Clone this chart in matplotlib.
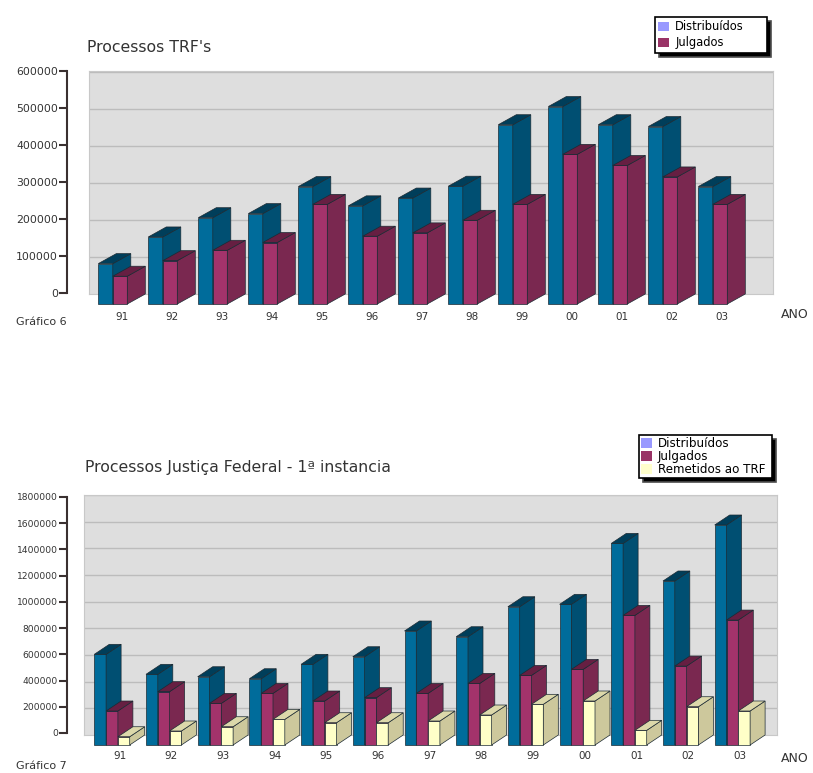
import matplotlib
matplotlib.use('Agg')
import matplotlib.pyplot as plt
from matplotlib.patches import Patch

W, H = 813, 773

years = ['91', '92', '93', '94', '95', '96', '97', '98', '99', '00', '01', '02', '03']

trf_distribuidos = [109000, 181000, 233000, 244000, 317000, 265000, 286000,
                    318000, 484000, 533000, 484000, 479000, 317000]
trf_julgados = [75000, 117000, 145000, 166000, 269000, 183000, 192000,
                226000, 269000, 404000, 374000, 343000, 269000]

jf_distribuidos = [680000, 530000, 512000, 497000, 605000, 662000, 855000,
                   812000, 1037000, 1055000, 1512000, 1230000, 1650000]
jf_julgados = [255000, 400000, 312000, 387000, 330000, 355000, 387000,
               462000, 522000, 567000, 972000, 592000, 937000]
jf_remetidos = [62000, 105000, 137000, 192000, 167000, 167000, 180000,
                225000, 305000, 330000, 110000, 287000, 255000]

trf_ticks = [0, 100000, 200000, 300000, 400000, 500000, 600000]
jf_ticks = [0, 200000, 400000, 600000, 800000, 1000000, 1200000, 1400000, 1600000, 1800000]

# front, side, top
BLUE = ('#006c9b', '#004f72', '#003e5a')
RED = ('#a3336b', '#7a2850', '#661f42')
YELLOW = ('#ffffc8', '#cdc89c', '#dcd8aa')

fig = plt.figure(figsize=(W / 100, H / 100), dpi=100)


def px_axes(left, top, right, bottom):
    return fig.add_axes([left / W, 1 - bottom / H, (right - left) / W, (bottom - top) / H])


def bar3d(ax, x, value, width, ddx, ddy, colors):
    edge = '#1c2a33'
    base = -ddy
    ax.bar(x, value, width, bottom=base, align='edge', color=colors[0],
           edgecolor=edge, linewidth=0.5, clip_on=False, zorder=5)
    ax.fill([x + width, x + width + ddx, x + width + ddx, x + width],
            [base, 0, value, value + base], facecolor=colors[1],
            edgecolor=edge, linewidth=0.5, clip_on=False, zorder=5)
    ax.fill([x, x + ddx, x + width + ddx, x + width],
            [value + base, value, value, value + base], facecolor=colors[2],
            edgecolor=edge, linewidth=0.5, clip_on=False, zorder=5)


def chart(box, scale_box, first_bar, step, bar_px, ymax, ticks, tick_size, series, pad):
    left, top, right, bottom = box
    ax = px_axes(left, top, right, bottom)
    ax.set_xlim((left - first_bar) / step, (right - first_bar) / step)
    ax.set_ylim(0, ymax)
    ax.set_facecolor('#dedede')
    for s in ax.spines.values():
        s.set_color('#c8c8c8')
        s.set_linewidth(0.8)
    ax.set_yticks(ticks[1:])
    ax.tick_params(axis='y', length=0, labelleft=False)
    ax.grid(axis='y', color='#bcbcbc', linewidth=1)
    ax.set_axisbelow(True)

    ddx = 18.0 / step if len(series) == 2 else 15.0 / step
    ddy = 10.0 * ymax / (bottom - top)
    width = bar_px / step

    for i in range(len(years)):
        for k, (values, colors) in enumerate(series):
            bar3d(ax, i + k * width, values[i], width, ddx, ddy, colors)

    group = width * len(series)
    ax.set_xticks([i + (group + ddx) / 2 for i in range(len(years))])
    ax.set_xticklabels(years, fontsize=7.5, color='#333333')
    ax.tick_params(axis='x', length=0, pad=pad)

    # the value scale stands apart from the grey panel
    scale = px_axes(*scale_box)
    scale.patch.set_visible(False)
    scale.set_ylim(0, ticks[-1])
    scale.set_xticks([])
    scale.set_yticks(ticks)
    scale.set_yticklabels([str(t) for t in ticks], fontsize=tick_size, color='#333333')
    scale.tick_params(axis='y', length=5.5, width=1.5, color='#3a3030', pad=1)
    for name in ('top', 'right', 'bottom'):
        scale.spines[name].set_visible(False)
    scale.spines['left'].set_color('#3a3030')
    scale.spines['left'].set_linewidth(1.5)
    return ax


def legend_box(ax, labels, colors, box, size, spacing, pad):
    x, y, w, h = box
    handles = [Patch(facecolor=c, edgecolor='none') for c in colors]
    leg = ax.legend(handles, labels, loc='upper left',
                    bbox_to_anchor=(x / W, 1 - (y + h) / H, w / W, h / H),
                    bbox_transform=fig.transFigure, mode='expand', fontsize=size, fancybox=False,
                    framealpha=1, edgecolor='black', borderaxespad=0, borderpad=pad,
                    labelspacing=spacing, handlelength=0.95, handleheight=0.9, handletextpad=0.5,
                    shadow={'ox': 3, 'oy': -3, 'fc': 'black', 'alpha': 1})
    leg.get_frame().set_linewidth(1.2)
    leg.set_zorder(20)


ax1 = chart((89, 71, 773, 294), (67, 71, 68, 293), 98.3, 50.0, 14.5, 602000,
            trf_ticks, 7.8, [(trf_distribuidos, BLUE), (trf_julgados, RED)], 13)
ax2 = chart((84, 495, 777, 735), (67, 497, 68, 733), 94.3, 51.7, 11.8, 1800000,
            jf_ticks, 6.6, [(jf_distribuidos, BLUE), (jf_julgados, RED), (jf_remetidos, YELLOW)], 11.5)

legend_box(ax1, ['Distribuídos', 'Julgados'], ['#9999ff', '#993366'], (655, 17, 112, 36), 8.3, 0.25, 0.3)
legend_box(ax2, ['Distribuídos', 'Julgados', 'Remetidos ao TRF'],
           ['#9999ff', '#993366', '#ffffcc'], (639, 435, 133, 42), 8.6, 0.0, 0.15)

txt = dict(color='#333333', transform=fig.transFigure, va='center')
fig.text(87 / W, 1 - 47 / H, "Processos TRF's", fontsize=11.3, **txt)
fig.text(85 / W, 1 - 468 / H, 'Processos Justiça Federal - 1ª instancia', fontsize=11.3, **txt)
fig.text(16 / W, 1 - 322 / H, 'Gráfico 6', fontsize=8, **txt)
fig.text(16 / W, 1 - 766 / H, 'Gráfico 7', fontsize=8, **txt)
fig.text(781 / W, 1 - 314 / H, 'ANO', fontsize=9, **txt)
fig.text(781 / W, 1 - 758 / H, 'ANO', fontsize=9, **txt)

fig.savefig('out.png', dpi=100)
